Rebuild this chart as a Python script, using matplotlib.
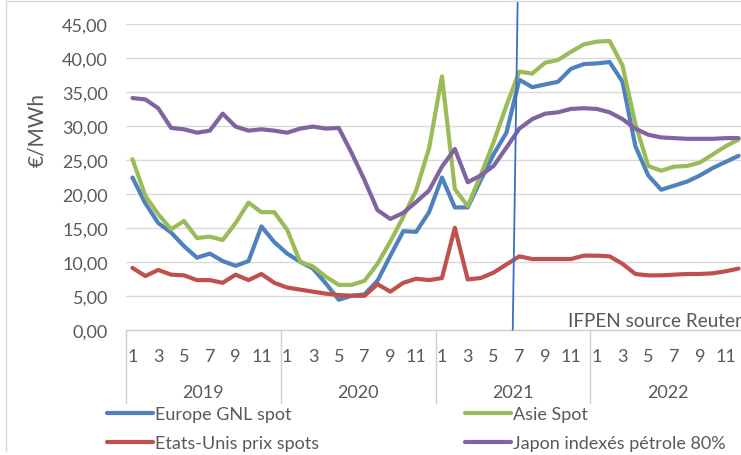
import matplotlib
matplotlib.use("Agg")
import matplotlib.pyplot as plt
import matplotlib.transforms as mtransforms
from matplotlib.lines import Line2D

plt.rcParams['font.family'] = ['Lato', 'DejaVu Sans']

years = ["2019", "2020", "2021", "2022"]
months = list(range(1, 13))

europe_gnl = [22.4, 18.6, 15.7, 14.3, 12.3, 10.6, 11.2, 10.1, 9.4, 10.1, 15.2, 12.9,
              11.2, 10.0, 9.0, 6.8, 4.4, 5.0, 5.2, 7.2, 10.9, 14.5, 14.4, 17.3,
              22.4, 18.0, 18.0, 22.0, 25.8, 29.0, 36.8, 35.7, 36.1, 36.5, 38.4, 39.1,
              39.2, 39.4, 36.5, 27.0, 22.7, 20.6, 21.2, 21.8, 22.7, 23.8, 24.7, 25.6]
asie_spot = [25.1, 19.7, 17.0, 14.8, 16.0, 13.5, 13.7, 13.2, 15.7, 18.7, 17.3, 17.3,
             14.7, 10.0, 9.3, 7.8, 6.6, 6.6, 7.2, 9.7, 13.0, 16.6, 20.5, 26.7,
             37.3, 20.7, 18.2, 22.7, 27.6, 33.0, 38.0, 37.7, 39.3, 39.7, 40.9, 42.0,
             42.4, 42.5, 38.9, 30.3, 24.1, 23.4, 24.0, 24.1, 24.6, 25.8, 27.0, 28.0]
etats_unis = [9.1, 7.9, 8.8, 8.1, 8.0, 7.3, 7.3, 6.9, 8.1, 7.3, 8.2, 6.9,
              6.2, 5.9, 5.6, 5.3, 5.1, 5.0, 5.0, 6.7, 5.6, 6.9, 7.5, 7.3,
              7.6, 15.0, 7.4, 7.6, 8.4, 9.6, 10.8, 10.4, 10.4, 10.4, 10.4, 10.9,
              10.9, 10.8, 9.7, 8.2, 8.0, 8.0, 8.1, 8.2, 8.2, 8.3, 8.6, 9.0]
japon = [34.1, 33.9, 32.6, 29.7, 29.5, 29.0, 29.3, 31.8, 29.9, 29.3, 29.5, 29.3,
         29.0, 29.6, 29.9, 29.6, 29.7, 26.0, 22.0, 17.6, 16.3, 17.2, 18.8, 20.5,
         24.0, 26.6, 21.7, 22.7, 24.1, 26.8, 29.6, 31.0, 31.8, 32.0, 32.5, 32.6,
         32.5, 32.0, 31.0, 29.6, 28.7, 28.3, 28.2, 28.1, 28.1, 28.1, 28.2, 28.2]

series_names = ["Europe GNL spot", "Asie Spot", "Etats-Unis prix spots", "Japon indexés pétrole 80%"]
series_colors = ["#4F81BD", "#9BBB59", "#C0504D", "#8064A2"]
y_ticks = [0, 5, 10, 15, 20, 25, 30, 35, 40, 45]

W, H = 741, 456
fig = plt.figure(figsize=(W / 100, H / 100), dpi=100)
fig.patch.set_facecolor("white")

def fx(px):
    return px / W

def fy(py):
    return 1 - py / H

ax = fig.add_axes([fx(126), fy(330.7), fx(745) - fx(126), fy(25) - fy(330.7)])
n = len(years) * len(months)
x = list(range(n))

handles = []
for vals, name, col in zip([europe_gnl, asie_spot, etats_unis, japon], series_names, series_colors):
    (h,) = ax.plot(x, vals, color=col, lw=3.0, solid_joinstyle="round", solid_capstyle="round",
                   label=name, clip_on=False, zorder=3)
    handles.append(h)

ax.set_xlim(-0.5, n - 0.5)
ax.set_ylim(0, 45)
ax.set_yticks(y_ticks)
ax.set_yticklabels([f"{v:.2f}".replace(".", ",") for v in y_ticks])
ax.yaxis.grid(True, color="#D9D9D9", lw=1.0)
ax.set_axisbelow(True)
for s in ["top", "right", "left"]:
    ax.spines[s].set_visible(False)
ax.spines["bottom"].set_color("#D0D0D0")
ax.spines["bottom"].set_linewidth(1.0)

tick_labels = []
for yr in years:
    for m in months:
        tick_labels.append(str(m) if m % 2 == 1 else "")
ax.set_xticks(x)
ax.set_xticklabels(tick_labels)
ax.tick_params(axis="x", length=0, pad=13, labelsize=13, colors="#595959")
ax.tick_params(axis="y", length=0, pad=13, labelsize=13, colors="#595959")

trans = mtransforms.blended_transform_factory(ax.transData, fig.transFigure)
for k, yr in enumerate(years):
    b = k * 12 - 0.5
    ax.add_line(Line2D([b, b], [fy(330.7), fy(404)], transform=trans, color="#D0D0D0",
                       lw=1.0, clip_on=False))
    ax.text(k * 12 + 5.5, fy(392.7), yr, transform=trans, ha="center", va="center",
            fontsize=13, color="#595959")

# hand-drawn vertical marker
ax.add_line(Line2D([29.49, 29.87], [0, 48.2], color="#3A6FC4", lw=1.3, clip_on=False, zorder=4))

fig.text(fx(568), fy(321.7), "IFPEN source Reuter", ha="left", va="center",
         fontsize=13.6, color="#595959")
fig.text(fx(37), fy(130), "€/MWh", rotation=90, ha="center", va="center",
         fontsize=15, color="#595959")

leg_kw = dict(loc="upper left", frameon=False, ncol=1, handlelength=2.55, handletextpad=0.12,
              labelspacing=0.72, borderpad=0, borderaxespad=0, fontsize=13,
              labelcolor="#595959")
fig.legend(handles=[handles[0], handles[2]], bbox_to_anchor=(fx(107), fy(407)), **leg_kw)
fig.legend(handles=[handles[1], handles[3]], bbox_to_anchor=(fx(465), fy(407)), **leg_kw)

# chart border (left and top visible)
fig.add_artist(Line2D([fx(6), fx(6)], [fy(1.5), fy(452)], color="#D9D9D9", lw=1.0))
fig.add_artist(Line2D([fx(6), 1.0], [fy(1.5), fy(1.5)], color="#D9D9D9", lw=1.0))

fig.savefig("out.png", dpi=100)
